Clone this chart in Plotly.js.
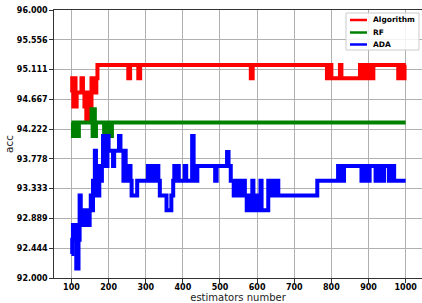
<!DOCTYPE html>
<html><head><meta charset="utf-8">
<script src="https://cdn.plot.ly/plotly-3.0.1.min.js"></script>
<style>html,body{margin:0;padding:0;background:#fff;}#chart{width:422px;height:303px;}</style>
</head><body><div id="chart"></div>
<script>
// Series names
const seriesNames = ["Algorithm", "RF", "ADA"];
// Algorithm (step breakpoints)
const algX = [100,102,105,108,111,114,127,131,135,138,140,144,147,151,154,158,161,165,167,170,253,258,280,285,583,588,788,791,794,797,800,823,827,877,880,884,888,892,896,900,904,908,911,913,980,984,988,992,995,997,1000];
const algY = [94.77,94.98,94.56,94.98,94.56,94.77,94.98,94.77,94.56,94.77,94.36,94.77,94.36,94.56,94.98,94.77,94.98,94.77,94.98,95.18,94.98,95.18,94.98,95.18,94.98,95.18,94.98,95.18,94.98,95.18,94.98,95.18,94.98,95.18,94.98,95.18,94.98,95.18,94.98,95.18,94.98,95.18,94.98,95.18,94.98,95.18,94.98,95.18,94.98,95.18,95.18];
// RF
const rfX = [100,104,107,116,120,154,157,160,163,166,188,191,194,197,200,203,206,209,1000];
const rfY = [94.32,94.12,94.32,94.12,94.32,94.52,94.12,94.52,94.12,94.32,94.12,94.32,94.12,94.32,94.12,94.32,94.12,94.32,94.32];
// ADA
const adaX = [100,102,104,107,110,113,119,122,125,128,131,134,137,141,145,149,152,155,158,161,163,166,169,172,175,178,182,185,188,191,194,197,200,212,215,228,232,240,243,246,249,252,256,259,262,277,306,309,313,317,322,326,330,334,338,356,369,374,377,381,385,389,405,409,425,429,433,436,439,487,491,519,523,529,537,541,545,549,553,557,560,563,567,572,578,581,587,590,600,603,609,612,630,633,637,641,645,649,653,657,762,818,822,826,830,834,881,884,887,890,893,896,899,903,919,922,925,929,933,936,939,942,955,958,962,966,969,1000];
const adaY = [92.36,92.57,92.79,92.57,92.79,92.14,92.57,93.23,92.79,93.01,92.79,93.01,92.79,93.01,92.79,93.01,93.23,93.01,93.45,93.23,93.9,93.45,93.67,93.23,93.67,93.45,93.67,94.12,93.67,94.12,93.67,94.12,93.9,93.67,93.9,94.12,93.9,93.45,93.9,93.45,93.67,93.45,93.67,93.45,93.23,93.45,93.67,93.45,93.67,93.45,93.67,93.45,93.67,93.45,93.23,93.01,93.23,93.45,93.67,93.45,93.67,93.45,93.67,93.45,94.12,93.45,93.67,93.45,93.67,93.45,93.67,93.88,93.67,93.45,93.23,93.45,93.23,93.45,93.23,93.45,93.23,93.45,93.23,93.01,93.23,93.01,93.45,93.01,93.23,93.01,93.45,93.01,93.45,93.23,93.45,93.23,93.45,93.23,93.45,93.23,93.45,93.67,93.45,93.67,93.45,93.67,93.45,93.67,93.45,93.67,93.45,93.67,93.45,93.67,93.45,93.67,93.45,93.67,93.45,93.67,93.45,93.67,93.45,93.67,93.45,93.67,93.45,93.45];
// Axis ticks
const xTicks = [100,200,300,400,500,600,700,800,900,1000];
const yTickVals = [92.0,92.4444,92.8889,93.3333,93.7778,94.2222,94.6667,95.1111,95.5556,96.0];
const yTickText = ["92.000","92.444","92.889","93.333","93.778","94.222","94.667","95.111","95.556","96.000"];
const colors = ["#ff0000","#008000","#0000ff"];

const xs = [algX, rfX, adaX], ys = [algY, rfY, adaY];
const traces = seriesNames.map((n,i)=>({
  x: xs[i], y: ys[i], name: n, type: "scatter", mode: "lines",
  line: {color: colors[i], width: 4, shape: "hv"}, showlegend: false
}));

// custom legend (paper coords)
const legRows = [0.9627, 0.916, 0.8713];
const shapes = [{type:"rect", xref:"paper", yref:"paper", x0:0.7935, x1:0.9918, y0:0.8507, y1:0.9888,
  line:{color:"#cccccc", width:1}, fillcolor:"rgba(255,255,255,0.85)", layer:"above"}];
const annotations = [];
seriesNames.forEach((n,i)=>{
  shapes.push({type:"line", xref:"paper", yref:"paper", x0:0.8043, x1:0.8505, y0:legRows[i], y1:legRows[i],
    line:{color:colors[i], width:2.5}, layer:"above"});
  annotations.push({xref:"paper", yref:"paper", x:0.862, y:legRows[i], xanchor:"left", yanchor:"middle",
    text:"<b>"+n+"</b>", showarrow:false, font:{family:"DejaVu Sans", size:7.5, color:"#000"}});
});

const layout = {
  width: 422, height: 303,
  margin: {l:54, r:0, t:10, b:25, pad:0},
  paper_bgcolor:"#fff", plot_bgcolor:"#fff",
  font: {family:"DejaVu Sans", color:"#000"},
  xaxis: {range:[53,1044], tickvals:xTicks, ticks:"outside", ticklen:3.5, tickcolor:"#333",
    ticklabelstandoff:-2,
    tickfont:{family:"DejaVu Sans", size:8, weight:"bold", color:"#000"},
    showgrid:true, gridcolor:"#b0b0b0", gridwidth:1, zeroline:false,
    showline:true, linecolor:"#333", linewidth:1.2, mirror:true,
    title:{text:"estimators number", font:{family:"DejaVu Sans", size:10, color:"#222"}, standoff:3}},
  yaxis: {range:[92,96], tickvals:yTickVals, ticktext:yTickText, ticks:"outside", ticklen:3.5, tickcolor:"#333",
    tickfont:{family:"DejaVu Sans", size:8, weight:"bold", color:"#000"},
    showgrid:true, gridcolor:"#b0b0b0", gridwidth:1, zeroline:false,
    showline:true, linecolor:"#333", linewidth:1.2,
    title:{text:"acc", font:{family:"DejaVu Sans", size:10.5, color:"#222"}, standoff:1}},
  shapes: shapes, annotations: annotations
};
Plotly.newPlot("chart", traces, layout, {displayModeBar:false, staticPlot:true});
</script></body></html>
